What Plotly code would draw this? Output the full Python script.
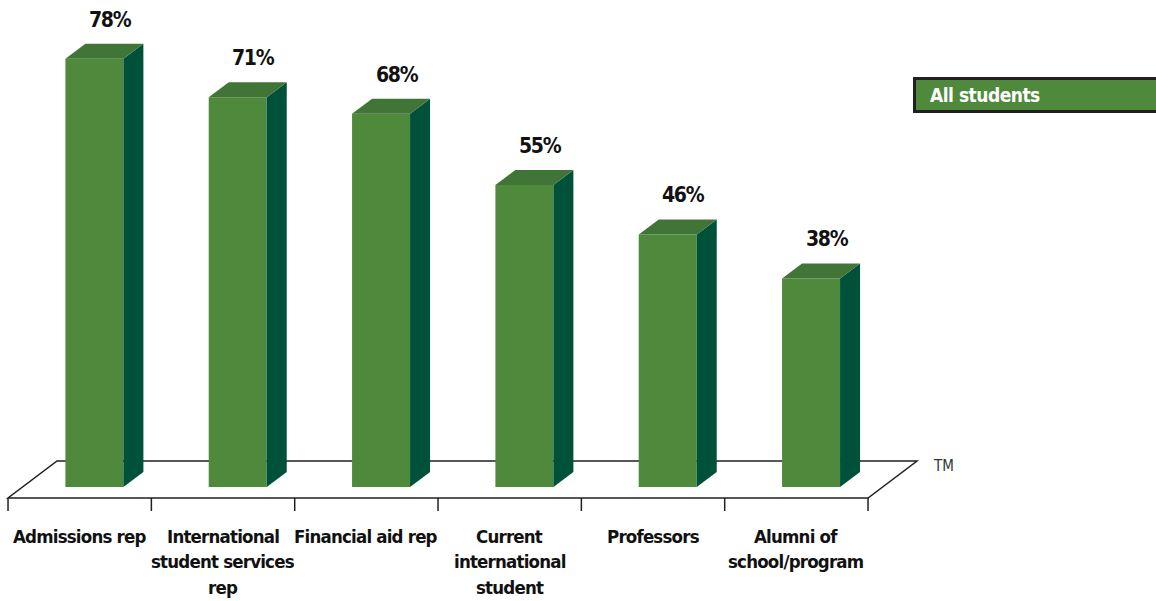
import plotly.graph_objects as go

# Survey results
categories = [
    "Admissions rep",
    "International<br>student services<br>rep",
    "Financial aid rep",
    "Current<br>international<br>student",
    "Professors",
    "Alumni of<br>school/program",
]
values = [78, 71, 68, 55, 46, 38]
series_name = "All students"

W, H = 1156, 601
FONT = "DejaVu Sans Condensed, Liberation Sans Narrow, Arial Narrow, sans-serif"

# Pixel geometry of the pseudo-3D layout
PX_PER_CAT = 143.33      # horizontal pixels per category
PX_PER_PCT = 5.49        # vertical pixels per percentage point
X0_PX = 79.7             # pixel x of the first category centre (front edge)
BASE_PX = 487            # pixel y of the 0% level

x_range = [-X0_PX / PX_PER_CAT, (W - X0_PX) / PX_PER_CAT]
y_range = [(BASE_PX - H) / PX_PER_PCT, BASE_PX / PX_PER_PCT]

# floor depth vector and bar depth in data units
floor_dx = 49 / PX_PER_CAT
floor_dy = 37 / PX_PER_PCT
floor_front_y = -11 / PX_PER_PCT
bar_pos = 0.3                 # fraction of floor depth where the bar front sits
bar_w = 58 / PX_PER_CAT
bar_dx = 20 / PX_PER_CAT
bar_dy = 15 / PX_PER_PCT
tick_len = 13 / PX_PER_PCT

FRONT = "#4f8a3c"
TOP = "#417538"
SIDE = "#00513a"
LINE = "#231f20"

n = len(categories)
bar_x = [i + bar_pos * floor_dx for i in range(n)]


def tight(text, spacing):
    """Bold text with tightened letter spacing."""
    return f"<span style='letter-spacing:{spacing}px'><b>{text}</b></span>"


fig = go.Figure()

# front faces
fig.add_trace(go.Bar(
    x=bar_x, y=values, base=0, width=bar_w,
    marker=dict(color=FRONT, line=dict(width=0)),
    hoverinfo="skip", showlegend=False,
))

# side and top faces
for xc, v in zip(bar_x, values):
    xl, xr = xc - bar_w / 2, xc + bar_w / 2
    fig.add_trace(go.Scatter(
        x=[xr, xr + bar_dx, xr + bar_dx, xr, xr],
        y=[0, bar_dy, v + bar_dy, v, 0],
        fill="toself", fillcolor=SIDE, mode="lines",
        line=dict(width=0, color=SIDE), hoverinfo="skip", showlegend=False,
    ))
    fig.add_trace(go.Scatter(
        x=[xl, xl + bar_dx, xr + bar_dx, xr, xl],
        y=[v, v + bar_dy, v + bar_dy, v, v],
        fill="toself", fillcolor=TOP, mode="lines",
        line=dict(width=0, color=TOP), hoverinfo="skip", showlegend=False,
    ))

# floor outline and category ticks
shapes = []
xa, xb = -0.5, n - 0.5
fy, by = floor_front_y, floor_front_y + floor_dy
floor_path = (f"M {xa},{fy} L {xb},{fy} L {xb + floor_dx},{by} "
              f"L {xa + floor_dx},{by} Z")
shapes.append(dict(type="path", path=floor_path, xref="x", yref="y",
                   line=dict(color=LINE, width=1.5), layer="below"))
for k in range(n + 1):
    tx = -0.5 + k
    shapes.append(dict(type="line", x0=tx, x1=tx, y0=fy, y1=fy - tick_len,
                       xref="x", yref="y", line=dict(color=LINE, width=1.5),
                       layer="below"))

# legend box
shapes.append(dict(type="rect", xref="paper", yref="paper",
                   x0=914.5 / W, x1=1165 / W, y0=1 - 111.5 / H, y1=1 - 78.5 / H,
                   fillcolor=FRONT, line=dict(color=LINE, width=3)))

annotations = []
# value labels
for xc, v in zip(bar_x, values):
    annotations.append(dict(
        x=xc + 0.112, y=v + bar_dy, xref="x", yref="y",
        text=tight(f"{v}%", -1.3), showarrow=False, yanchor="middle", yshift=24,
        font=dict(family=FONT, size=21, color="#111111"),
    ))
# category labels, one annotation per line
LINE_GAP = 25.5
for i, c in enumerate(categories):
    for k, part in enumerate(c.split("<br>")):
        annotations.append(dict(
            x=i, y=1 - (536 + LINE_GAP * k) / H, xref="x", yref="paper",
            text=tight(part, -0.8), showarrow=False, yanchor="middle",
            xanchor="center",
            font=dict(family=FONT, size=18.5, color="#111111"),
        ))
# legend text
annotations.append(dict(
    x=928 / W, y=1 - 95 / H, xref="paper", yref="paper", xanchor="left",
    yanchor="middle", text=tight(series_name, -0.5), showarrow=False,
    font=dict(family=FONT, size=19, color="white"),
))
# trademark
annotations.append(dict(
    x=931 / W, y=1 - 466 / H, xref="paper", yref="paper", xanchor="left",
    yanchor="middle", text="TM", showarrow=False,
    font=dict(family=FONT, size=15, color="#333333"),
))

fig.update_layout(
    width=W, height=H,
    margin=dict(l=0, r=0, t=0, b=0),
    paper_bgcolor="white", plot_bgcolor="white",
    xaxis=dict(range=x_range, visible=False, fixedrange=True),
    yaxis=dict(range=y_range, visible=False, fixedrange=True),
    shapes=shapes, annotations=annotations,
    showlegend=False, barmode="overlay",
)

fig.write_html("out.html", config={"displayModeBar": False})
